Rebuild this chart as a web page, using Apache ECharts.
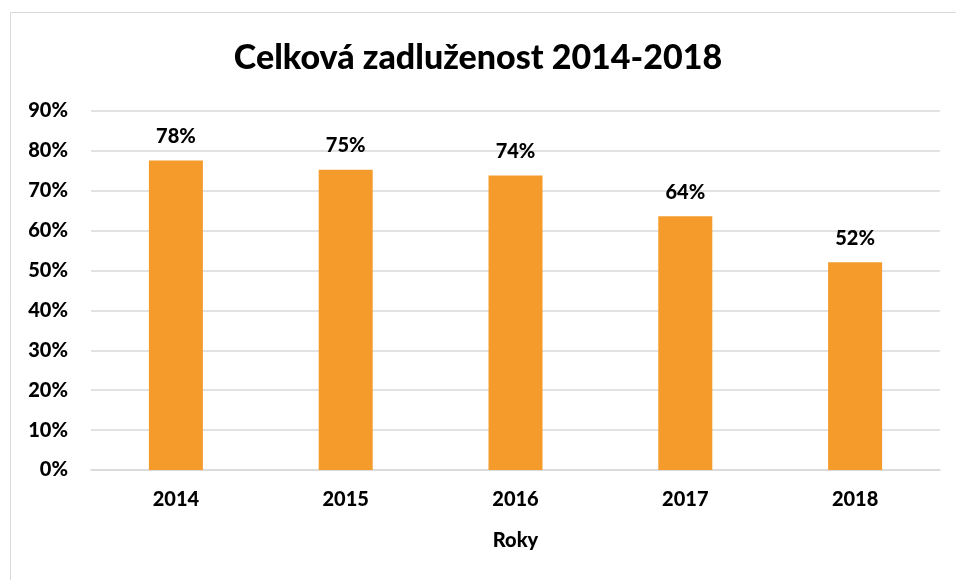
<!DOCTYPE html>
<html>
<head>
<meta charset="utf-8">
<script src="https://cdn.jsdelivr.net/npm/echarts@6/dist/echarts.min.js"></script>
<style>
html,body{margin:0;padding:0;background:#fff;}
#chart{width:956px;height:580px;}
</style>
</head>
<body>
<div id="chart"></div>
<script>
const titleText = 'Celková zadluženost 2014-2018';
const categories = ['2014', '2015', '2016', '2017', '2018'];
const values = [77.6, 75.3, 73.8, 63.6, 52.1];
const xAxisName = 'Roky';

const FONT = 'Lato';
const W = 900;
const chart = echarts.init(document.getElementById('chart'), null, {renderer: 'canvas'});
chart.setOption({
  animation: false,
  backgroundColor: '#ffffff',
  graphic: [{
    type: 'rect', silent: true, z: -10,
    shape: {x: 10.5, y: 12.5, width: 1000, height: 1000},
    style: {fill: 'none', stroke: '#d9d9d9', lineWidth: 1}
  }],
  title: {
    text: titleText, left: 'center', top: 36,
    textStyle: {fontFamily: FONT, fontWeight: W, fontSize: 34, color: '#000'}
  },
  grid: {left: 91, right: 16, top: 111, bottom: 110, containLabel: false},
  xAxis: {
    type: 'category', data: categories,
    name: xAxisName, nameLocation: 'middle', nameGap: 61,
    nameTextStyle: {fontFamily: FONT, fontWeight: W, fontSize: 20, color: '#000'},
    axisLine: {lineStyle: {color: '#d9d9d9', width: 1.5}},
    axisTick: {show: false},
    axisLabel: {fontFamily: FONT, fontWeight: W, fontSize: 20, color: '#000', margin: 20}
  },
  yAxis: {
    type: 'value', min: 0, max: 90, interval: 10,
    axisLine: {show: false}, axisTick: {show: false},
    splitLine: {lineStyle: {color: '#d9d9d9', width: 1.5}},
    axisLabel: {fontFamily: FONT, fontWeight: W, fontSize: 20, color: '#000', margin: 23,
      formatter: v => v + '%'}
  },
  series: [{
    type: 'bar', data: values, barWidth: 54,
    itemStyle: {color: '#F59B2C'},
    label: {show: true, position: 'top', distance: 14,
      fontFamily: FONT, fontWeight: W, fontSize: 20, color: '#000',
      formatter: p => Math.round(p.value) + '%'}
  }]
});
</script>
</body>
</html>
